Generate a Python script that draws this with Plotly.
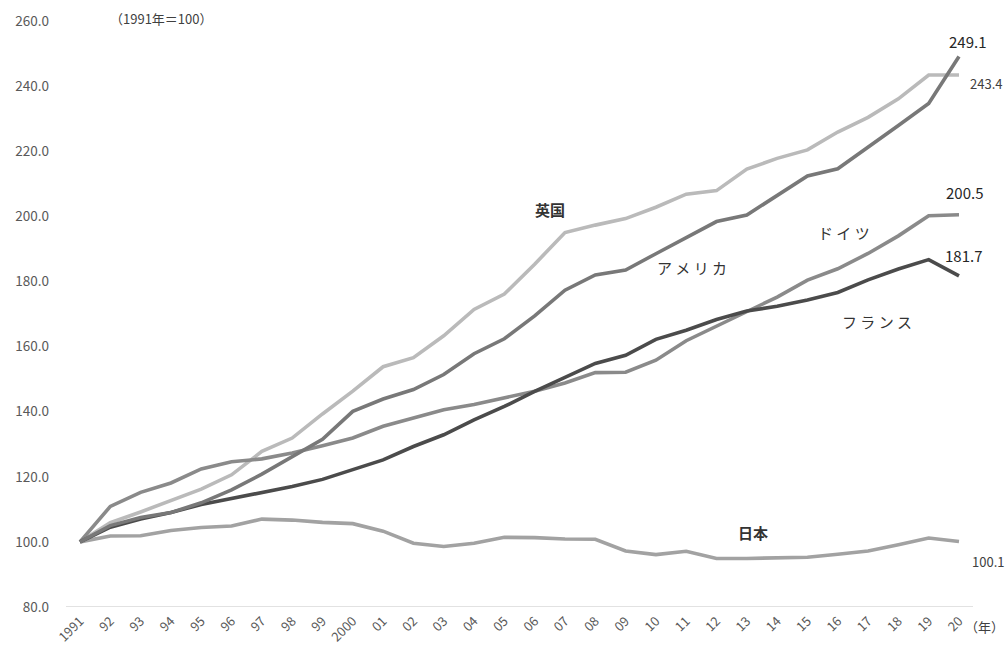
import plotly.graph_objects as go

years = ["1991", "92", "93", "94", "95", "96", "97", "98", "99", "2000",
         "01", "02", "03", "04", "05", "06", "07", "08", "09", "10",
         "11", "12", "13", "14", "15", "16", "17", "18", "19", "20"]

uk = [100, 105.9, 109.2, 112.6, 116.2, 120.6, 127.8, 131.9, 139.3, 146.3,
      153.8, 156.6, 163.3, 171.4, 176.1, 185.3, 195.0, 197.3, 199.3, 202.8,
      206.8, 207.9, 214.5, 217.8, 220.4, 225.9, 230.4, 236.1, 243.4, 243.4]
japan = [100, 101.8, 101.9, 103.5, 104.4, 104.9, 107.0, 106.7, 106.0, 105.6,
         103.3, 99.6, 98.6, 99.6, 101.4, 101.3, 100.9, 100.8, 97.2, 96.1,
         97.1, 94.9, 94.9, 95.2, 95.3, 96.2, 97.2, 99.1, 101.2, 100.1]
germany = [100, 110.9, 115.2, 118.1, 122.4, 124.6, 125.5, 127.3, 129.5, 131.9,
           135.5, 138.1, 140.6, 142.2, 144.2, 146.3, 148.8, 152.0, 152.1, 155.8,
           161.8, 166.2, 170.5, 175.2, 180.4, 183.9, 188.6, 194.0, 200.2, 200.5]
usa = [100, 105.0, 107.5, 109.0, 112.0, 116.0, 120.8, 126.3, 131.5, 140.1,
       143.9, 146.8, 151.4, 157.8, 162.4, 169.4, 177.3, 182.0, 183.5, 188.5,
       193.4, 198.4, 200.4, 206.3, 212.4, 214.6, 221.1, 227.9, 234.7, 249.1]
france = [100, 104.5, 107.0, 109.0, 111.5, 113.3, 115.0, 117.0, 119.2, 122.2,
          125.2, 129.3, 132.9, 137.5, 141.6, 146.2, 150.4, 154.8, 157.3, 162.2,
          165.0, 168.3, 170.9, 172.4, 174.3, 176.6, 180.5, 183.8, 186.7, 181.7]

y_ticks = [80, 100, 120, 140, 160, 180, 200, 220, 240, 260]

FONT = "Noto Sans CJK JP"
x = list(range(len(years)))

series = [
    ("英国", uk, "#bababa"),
    ("日本", japan, "#a2a2a2"),
    ("ドイツ", germany, "#8a8a8a"),
    ("フランス", france, "#4b4b4b"),
    ("アメリカ", usa, "#787878"),
]

fig = go.Figure()
for name, vals, col in series:
    fig.add_trace(go.Scatter(x=x, y=vals, mode="lines", name=name,
                             line=dict(color=col, width=3.6), showlegend=False))

# end-value labels
end_labels = [
    (usa, 8, 15, 15, True),
    (uk, 27, -8, 13, False),
    (germany, 5, 22, 15, True),
    (france, 4, 20, 15, True),
    (japan, 29, -20, 13, False),
]
for vals, xs, ys, size, bold in end_labels:
    txt = f"{vals[-1]:.1f}"
    fig.add_annotation(x=x[-1], y=vals[-1], text=txt, showarrow=False,
                       xshift=xs, yshift=ys,
                       font=dict(family=FONT, size=size, color="#262626" if bold else "#404040"))

# series name labels
name_labels = [
    ("<b>英国</b>", 15.5, 202.2, 15),
    ("ア メ リ カ", 20.2, 184.3, 15),
    ("ド イ ツ", 25.2, 195.1, 15),
    ("フ ラ ン ス", 26.3, 167.7, 15),
    ("<b>日本</b>", 22.2, 102.8, 15),
]
for t, lx, ly, size in name_labels:
    fig.add_annotation(x=lx, y=ly, text=t, showarrow=False,
                       font=dict(family=FONT, size=size, color="#333333"))

fig.add_annotation(xref="paper", yref="paper", x=0.046, y=1.005,
                   text="（1991年＝100）", showarrow=False, xanchor="left", yanchor="middle",
                   font=dict(family=FONT, size=13, color="#404040"))
fig.add_annotation(xref="paper", yref="paper", x=1.0364, y=-0.034,
                   text="（年）", showarrow=False, xanchor="right", yanchor="middle",
                   font=dict(family=FONT, size=13, color="#404040"))

fig.update_layout(
    width=1008, height=649,
    margin=dict(l=66, r=35, t=21, b=42),
    paper_bgcolor="white", plot_bgcolor="white",
    font=dict(family=FONT, color="#595959"),
    xaxis=dict(tickmode="array", tickvals=x, ticktext=years, tickangle=-45,
               range=[-0.462, 29.462], showgrid=False, zeroline=False,
               showline=False, ticks="", ticklabelstandoff=3, automargin=False,
               tickfont=dict(size=13, color="#595959")),
    yaxis=dict(range=[80, 260], tickvals=y_ticks, tickformat=".1f",
               showgrid=False, zeroline=False, showline=False, ticks="",
               ticklabelstandoff=16, automargin=False,
               tickfont=dict(size=13.5, color="#595959")),
)
# baseline at 80
fig.add_shape(type="line", xref="paper", yref="y", x0=0, x1=1, y0=80, y1=80,
              line=dict(color="#d9d9d9", width=1.3), layer="below")

fig.write_html("out.html")
